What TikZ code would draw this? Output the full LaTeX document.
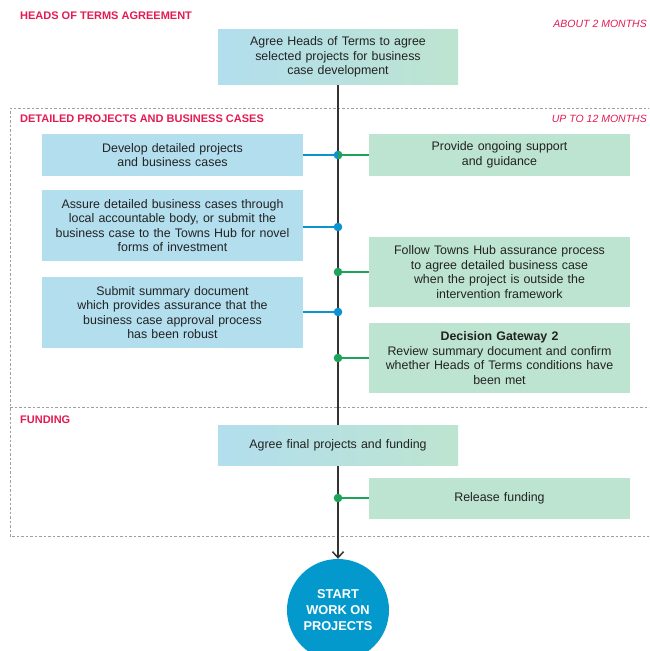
\documentclass[tikz,border=0pt]{standalone}
\usepackage{fontspec}
\setmainfont{Liberation Sans}
\usetikzlibrary{arrows.meta}
\definecolor{hubred}{HTML}{E31B54}
\definecolor{hubblue}{HTML}{B2DEEE}
\definecolor{hubgreen}{HTML}{BDE4D0}
\definecolor{dotblue}{HTML}{0B93CF}
\definecolor{dotgreen}{HTML}{1FA35A}
\definecolor{circblue}{HTML}{0499CC}
\definecolor{spine}{HTML}{333333}
\definecolor{inktext}{HTML}{222222}
\begin{document}
\begin{tikzpicture}[x=1pt,y=-1pt,
  boxtext/.style={font=\fontsize{12.4}{14.6}\selectfont,text=inktext,align=center,
    inner sep=0pt,minimum width=261pt},
  leftbox/.style={boxtext,fill=hubblue,text width=250pt},
  rightbox/.style={boxtext,fill=hubgreen,text width=250pt},
  % blue to green fade, drawn as thin strips
  midbox/.style={boxtext,minimum width=240pt,text width=230pt,
    path picture={
      \foreach \i in {0,...,47}{
        \pgfmathsetmacro\mix{100*\i/47}
        \fill[hubgreen!\mix!hubblue]
          ([xshift=\i*5pt]path picture bounding box.north west) rectangle
          ([xshift=\i*5pt+5.5pt]path picture bounding box.south west);
      }}},
  heading/.style={font=\fontsize{11}{13}\selectfont\bfseries,text=hubred,anchor=west,inner sep=0pt},
  timing/.style={font=\fontsize{10.5}{12}\selectfont\itshape,text=hubred,anchor=east,inner sep=0pt},
  section/.style={draw=gray!75,line width=0.8pt,dash pattern=on 2.5pt off 2pt},
  spineline/.style={draw=spine,line width=1.6pt},
  blueline/.style={draw=dotblue,line width=1.4pt},
  greenline/.style={draw=dotgreen,line width=1.4pt}]
\useasboundingbox (0,0) rectangle (649,651);
\clip (0,0) rectangle (649,651);

% section frames
\draw[section] (700,108) -- (10,108) -- (10,536) -- (700,536);
\draw[section] (10,407) -- (700,407);

% headings
\node[heading] (h1) at (20,16) {HEADS OF TERMS AGREEMENT};
\node[timing] (t1) at (647,24) {ABOUT 2 MONTHS};
\node[heading] (h2) at (20,119) {DETAILED PROJECTS AND BUSINESS CASES};
\node[timing] (t2) at (647,119) {UP TO 12 MONTHS};
\node[heading] (h3) at (20,420) {FUNDING};

% boxes
\node[midbox,minimum height=56pt] (hot) at (338,57)
  {Agree Heads of Terms to agree\\selected projects for business\\case development};
\node[leftbox,minimum height=42pt] (develop) at (172.5,155)
  {Develop detailed projects\\and business cases};
\node[rightbox,minimum height=42pt] (support) at (499.5,155)
  {Provide ongoing support\\and guidance};
\node[leftbox,minimum height=71pt] (assure) at (172.5,225.5)
  {Assure detailed business cases through\\local accountable body, or submit the\\business case to the Towns Hub for novel\\forms of investment};
\node[rightbox,minimum height=70pt] (follow) at (499.5,272)
  {Follow Towns Hub assurance process\\to agree detailed business case\\when the project is outside the\\intervention framework};
\node[leftbox,minimum height=71pt] (submit) at (172.5,312.5)
  {Submit summary document\\which provides assurance that the\\business case approval process\\has been robust};
\node[rightbox,minimum height=70pt] (gateway) at (499.5,358)
  {\textbf{Decision Gateway 2}\\Review summary document and confirm\\whether Heads of Terms conditions have\\been met};
\node[midbox,minimum height=41pt] (final) at (338,445.5)
  {Agree final projects and funding};
\node[rightbox,minimum height=41pt] (release) at (499.5,498.5)
  {Release funding};
\node[circle,fill=circblue,minimum size=102pt,inner sep=0pt,align=center,text=white,
  font=\fontsize{12.8}{16}\selectfont\bfseries] (start) at (338,610)
  {START\\WORK ON\\PROJECTS};

% spine
\draw[spineline] (hot) -- (final);
\draw[spineline,-{Straight Barb[length=6pt,width=11pt,line width=1.5pt]}] (final) -- (start);

% dots on the spine
\coordinate (d1) at (338,155);
\coordinate (d2) at (338,227);
\coordinate (d3) at (338,272);
\coordinate (d4) at (338,312);
\coordinate (d5) at (338,358);
\coordinate (d6) at (338,498);

\draw[blueline] (develop.east |- d1) -- (d1);
\draw[greenline] (d1) -- (support.west |- d1);
\draw[blueline] (assure.east |- d2) -- (d2);
\draw[greenline] (d3) -- (follow.west |- d3);
\draw[blueline] (submit.east |- d4) -- (d4);
\draw[greenline] (d5) -- (gateway.west |- d5);
\draw[greenline] (d6) -- (release.west |- d6);

\fill[dotblue] (d1) circle (4.3pt);
\fill[dotgreen] (d1) ++(0,-4.3) arc (90:-90:4.3pt) -- cycle;
\fill[dotblue] (d2) circle (4.3pt);
\fill[dotgreen] (d3) circle (4.3pt);
\fill[dotblue] (d4) circle (4.3pt);
\fill[dotgreen] (d5) circle (4.3pt);
\fill[dotgreen] (d6) circle (4.3pt);
\end{tikzpicture}
\end{document}
